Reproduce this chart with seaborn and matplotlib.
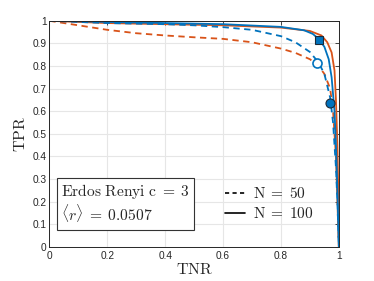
import numpy as np
import pandas as pd
import matplotlib
matplotlib.use("Agg")
import matplotlib.pyplot as plt
import seaborn as sns
from matplotlib.lines import Line2D

# ---- data ----
tnr_o50 = [0.0, 0.1, 0.2, 0.3, 0.4, 0.5, 0.6, 0.7, 0.8, 0.85, 0.9, 0.93, 0.95, 0.97, 0.98, 0.99, 0.995, 1.0]
tpr_o50 = [1.0, 0.98, 0.96, 0.945, 0.935, 0.927, 0.92, 0.905, 0.877, 0.858, 0.83, 0.8, 0.765, 0.7, 0.6, 0.4, 0.2, 0.0]

tnr_b50 = [0.0, 0.2, 0.4, 0.5, 0.6, 0.7, 0.8, 0.85, 0.9, 0.93, 0.95, 0.97, 0.98, 0.99, 0.995, 1.0]
tpr_b50 = [1.0, 0.99, 0.985, 0.98, 0.972, 0.96, 0.932, 0.905, 0.862, 0.815, 0.765, 0.66, 0.55, 0.35, 0.2, 0.0]

tnr_b100 = [0.0, 0.2, 0.4, 0.6, 0.8, 0.88, 0.91, 0.93, 0.95, 0.965, 0.975, 0.985, 0.99, 0.995, 1.0]
tpr_b100 = [1.0, 0.995, 0.99, 0.985, 0.973, 0.958, 0.942, 0.92, 0.885, 0.83, 0.75, 0.6, 0.45, 0.25, 0.0]

tnr_o100 = [0.0, 0.2, 0.4, 0.6, 0.8, 0.9, 0.94, 0.96, 0.975, 0.985, 0.99, 0.995, 0.998, 1.0]
tpr_o100 = [1.0, 0.99, 0.985, 0.98, 0.97, 0.955, 0.935, 0.905, 0.86, 0.78, 0.65, 0.45, 0.25, 0.0]

marker_sq = (0.93, 0.915)
marker_open = (0.925, 0.815)
marker_fill = (0.97, 0.635)

tick_x = [0, 0.2, 0.4, 0.6, 0.8, 1]
tick_x_labels = ["0", "0.2", "0.4", "0.6", "0.8", "1"]
tick_y = [0, 0.1, 0.2, 0.3, 0.4, 0.5, 0.6, 0.7, 0.8, 0.9, 1]
tick_y_labels = ["0", "0.1", "0.2", "0.3", "0.4", "0.5", "0.6", "0.7", "0.8", "0.9", "1"]

BLUE = "#0072BD"
ORANGE = "#D95319"

sns.set_theme(style="white")
plt.rcParams["mathtext.fontset"] = "cm"
plt.rcParams["font.family"] = ["Liberation Sans", "DejaVu Sans"]

fig = plt.figure(figsize=(3.74, 2.81), dpi=100)
ax = fig.add_axes([0.132, 0.122, 0.774, 0.804])

def draw(x, y, color, ls):
    df = pd.DataFrame({"x": x, "y": y})
    sns.lineplot(data=df, x="x", y="y", ax=ax, color=color, linestyle=ls,
                 linewidth=1.3, sort=False, estimator=None)

draw(tnr_o50, tpr_o50, ORANGE, (0, (3.5, 2.5)))
draw(tnr_o100, tpr_o100, ORANGE, "-")
draw(tnr_b50, tpr_b50, BLUE, (0, (3.5, 2.5)))
draw(tnr_b100, tpr_b100, BLUE, "-")

ax.plot([marker_sq[0]], [marker_sq[1]], marker="s", ms=6, mfc=BLUE, mec="#1a2a3a", mew=0.8, ls="none")
ax.plot([marker_open[0]], [marker_open[1]], marker="o", ms=6.5, mfc="white", mec=BLUE, mew=1.2, ls="none")
ax.plot([marker_fill[0]], [marker_fill[1]], marker="o", ms=6.5, mfc=BLUE, mec="#1a2a3a", mew=0.8, ls="none")

ax.set_xlim(0, 1)
ax.set_ylim(0, 1)
ax.set_xticks(tick_x)
ax.set_xticklabels(tick_x_labels)
ax.set_yticks(tick_y)
ax.set_yticklabels(tick_y_labels)
ax.grid(True, color="#e6e6e6", linewidth=0.8)
ax.tick_params(direction="in", length=3, width=0.6, colors="#262626", labelsize=7.3,
               top=True, right=True, pad=2)
ax.tick_params(axis="x", pad=3)
for s in ax.spines.values():
    s.set_color("#262626")
    s.set_linewidth(0.7)

ax.set_xlabel(r"$\mathrm{TNR}$", fontsize=11.5, labelpad=1)
ax.set_ylabel(r"$\mathrm{TPR}$", fontsize=11.5, labelpad=3)

ax.text(0.04, 0.19, r"$\mathrm{Erdos\ Renyi\ c}\;=\;3$" + "\n" + r"$\langle r\rangle\;=\;0.0507$",
        transform=ax.transAxes, fontsize=11.2, va="center", ha="left", linespacing=1.1,
        bbox=dict(boxstyle="square,pad=0.28", fc="white", ec="#333333", lw=0.8))

handles = [Line2D([], [], color="black", ls=(0, (2.5, 2)), lw=1.2),
           Line2D([], [], color="black", ls="-", lw=1.2)]
leg = ax.legend(handles, [r"$\mathrm{N}\;=\;50$", r"$\mathrm{N}\;=\;100$"], loc="center left",
                bbox_to_anchor=(0.56, 0.19), frameon=False, fontsize=11, handlelength=1.3,
                handletextpad=0.5, labelspacing=0.35)

fig.savefig("out.png", dpi=100)
